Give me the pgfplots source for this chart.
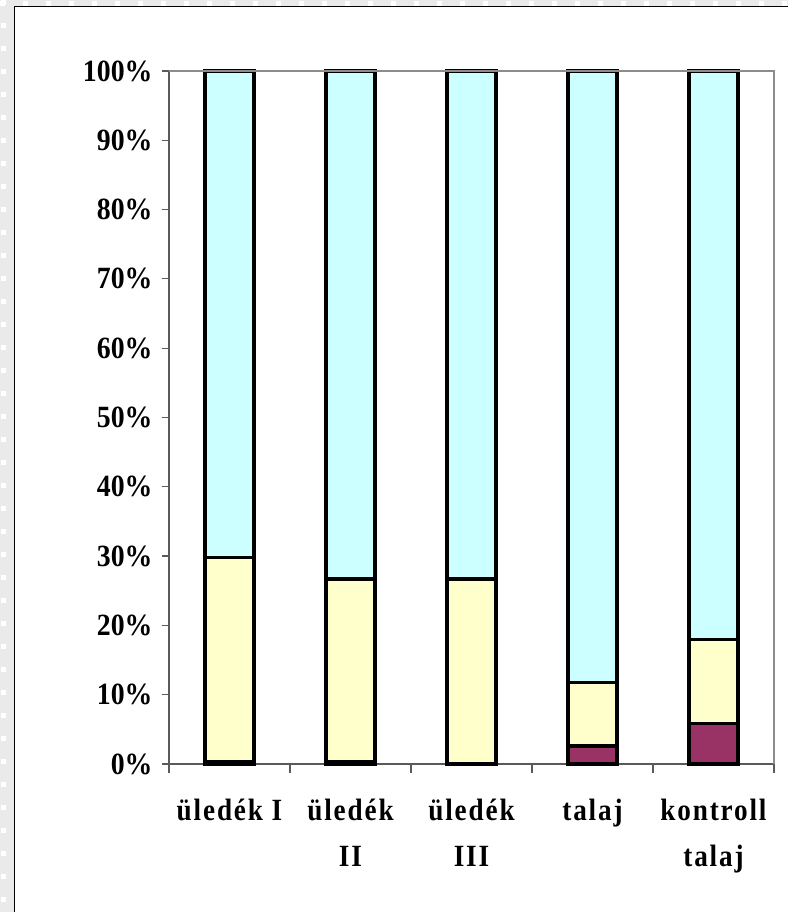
\documentclass[border=0pt]{standalone}
\usepackage{pgfplots}
\pgfplotsset{compat=1.18}
\usepackage{fontspec}
\setmainfont{Liberation Serif}
\newfontfamily\tickfont[FakeStretch=0.9]{Liberation Serif}
\newfontfamily\catfont[FakeStretch=0.88,LetterSpace=6]{Liberation Serif}

\definecolor{sky}{HTML}{CCFFFF}
\definecolor{cream}{HTML}{FFFFCC}
\definecolor{plum}{HTML}{993366}
\definecolor{axgray}{HTML}{5A5A5A}
\definecolor{boxgray}{HTML}{8C8C8C}
\definecolor{pagegray}{HTML}{EAEAEA}

% shares per sample (%), bottom to top
\pgfplotstableread{
x  first second third
0  0.4   29.4   70.2
1  0.4   26.3   73.3
2  0.0   26.7   73.3
3  2.6    9.2   88.2
4  5.8   12.2   82.0
}\shares

\begin{document}
\begin{tikzpicture}
\useasboundingbox (0bp,0bp) rectangle (788bp,912bp);
% page background with dotted border strip
\fill[pagegray] (0bp,0bp) rectangle (788bp,912bp);
\draw[white, line width=5bp, dash pattern=on 5bp off 18bp] (0bp,908.5bp) -- (788bp,908.5bp);
\draw[white, line width=5bp, dash pattern=on 5bp off 18bp] (3.5bp,912bp) -- (3.5bp,0bp);
\fill[white] (14bp,0bp) rectangle (788bp,905bp);
\draw[black, line width=1bp] (14bp,0bp) -- (14bp,905bp) -- (788bp,905bp);

\begin{axis}[
  at={(169bp,148bp)}, anchor=south west,
  scale only axis, width=605bp, height=693bp,
  ybar stacked, bar width=49bp,
  xmin=-0.5, xmax=4.5, ymin=0, ymax=100,
  xtick={0,1,2,3,4},
  xticklabels={{üledék I},{üledék\\II},{üledék\\III},{talaj},{kontroll\\talaj}},
  ytick={0,10,...,100},
  yticklabels={0\%,10\%,20\%,30\%,40\%,50\%,60\%,70\%,80\%,90\%,100\%},
  ytick pos=left,
  tick align=outside, major tick length=7bp,
  xtick style={draw=none},
  ytick style={draw=axgray, line width=1.2bp},
  axis line style={draw=none},
  yticklabel style={font=\tickfont\bfseries\fontsize{31}{33}\selectfont, anchor=east, xshift=-6bp},
  xticklabel style={font=\catfont\bfseries\fontsize{31}{46}\selectfont, align=center, anchor=north, yshift=-25bp},
  every axis plot/.append style={draw=black, line width=3.2bp},
  clip=false,
]
% plot area frame (top and right)
\draw[boxgray, line width=2.4bp] (rel axis cs:0,1) -- (rel axis cs:1,1) -- (rel axis cs:1,0);
\addplot[fill=plum] table[x=x, y=first] {\shares};
\addplot[fill=cream] table[x=x, y=second] {\shares};
\addplot[fill=sky] table[x=x, y=third] {\shares};
% axes on the left and bottom, with the category boundary ticks
\draw[axgray, line width=1.8bp] (rel axis cs:0,1) -- (rel axis cs:0,0) -- (rel axis cs:1,0);
\pgfplotsinvokeforeach{-0.5,0.5,1.5,2.5,3.5,4.5}{
  \draw[axgray, line width=1.2bp] (axis cs:#1,0) -- ++(0bp,-9bp);
}
\end{axis}
\end{tikzpicture}
\end{document}
